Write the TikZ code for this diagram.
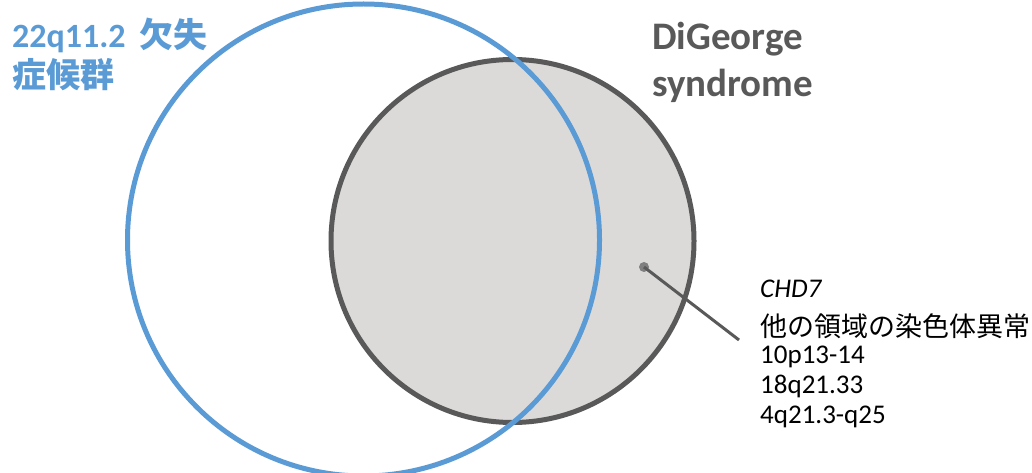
\documentclass[tikz,border=0pt]{standalone}
\usepackage{fontspec}
\setmainfont{Carlito}
\newfontfamily\cjk{Noto Sans CJK JP}
\usepackage{xcolor}
\usepackage{tikz}
\usetikzlibrary{positioning}

\definecolor{venblue}{HTML}{5B9BD5}
\definecolor{vengray}{HTML}{595959}
\definecolor{venfill}{HTML}{DCDAD9}
\definecolor{vendot}{HTML}{7F7F7F}

\tikzset{
    biglabel/.style={anchor=base west, inner sep=0pt, font=\bfseries\fontsize{34}{40}\selectfont},
    sidelabel/.style={anchor=base west, inner sep=0pt, font=\fontsize{27}{32}\selectfont, text=black}
}

\begin{document}
\begin{tikzpicture}[x=1pt, y=-1pt]
    \useasboundingbox (0,0) rectangle (1032,473);

    % 1. Hai vòng tròn
    \draw[vengray, line width=5pt, fill=venfill] (512.5,241) circle (181.5);
    \draw[venblue, line width=5pt] (363.5,240) circle (236);

    % 2. Nhãn lớn
    \node[biglabel, text=venblue] (delA) at (12,48) {22q11.2\hspace{14pt}{\cjk 欠失}};
    \node[biglabel, text=venblue] (delB) at (12,88) {\cjk 症候群};
    \node[biglabel, text=vengray, font=\bfseries\fontsize{39}{46}\selectfont] (dgA) at (652,50) {DiGeorge};
    \node[biglabel, text=vengray, font=\bfseries\fontsize{39}{46}\selectfont] (dgB) at (652,97) {syndrome};

    % 3. Chú thích bên phải
    \node[circle, fill=vendot, inner sep=0pt, minimum size=10pt] (dot) at (644,267) {};
    \coordinate (leadend) at (739,340);
    \draw[vengray, line width=3pt] (dot.center) -- (leadend);

    \node[sidelabel] (chd) at (760,297) {\itshape CHD7};
    \node[sidelabel] (other) at (760,336) {\cjk 他の領域の染色体異常};
    \node[sidelabel] (locA) at (760,363) {10p13-14};
    \node[sidelabel] (locB) at (760,393) {18q21.33};
    \node[sidelabel] (locC) at (760,423) {4q21.3-q25};
\end{tikzpicture}
\end{document}
